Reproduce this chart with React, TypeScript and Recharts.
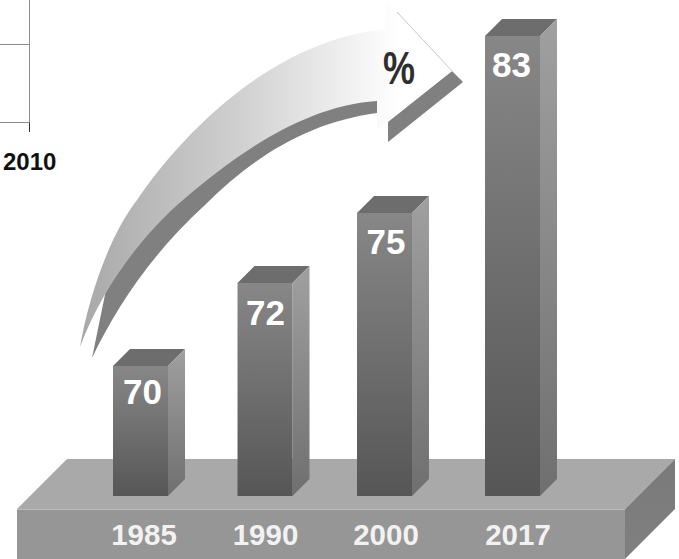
import React from "react";
import { BarChart, Bar, XAxis, YAxis, LabelList } from "recharts";

const years = ["1985", "1990", "2000", "2017"];
const percentages = [70, 72, 75, 83];
const rows = years.map((year, i) => ({ year, percent: percentages[i] }));

// Uneven value axis: the stops give each value its share of the plot height.
const axisValues = [60, 70, 72, 75, 83];
const axisShares = [0, 130 / 460, 213 / 460, 283 / 460, 1];

function stoppedScale(domain = [60, 83], range = [0, 1]) {
  const s: any = (v: number) => {
    let i = 0;
    while (i < axisValues.length - 2 && v > axisValues[i + 1]) i++;
    const t = (v - axisValues[i]) / (axisValues[i + 1] - axisValues[i]);
    const share = axisShares[i] + t * (axisShares[i + 1] - axisShares[i]);
    return range[0] + share * (range[1] - range[0]);
  };
  s.domain = (d?: number[]) => (d ? ((domain = d), s) : domain);
  s.range = (r?: number[]) => (r ? ((range = r.map(Number)), s) : range);
  s.copy = () => stoppedScale(domain.slice(), range.slice());
  s.ticks = () => axisValues;
  return s;
}

const DEPTH = 17;
const FONT = "'Liberation Sans', Arial, sans-serif";
const barShift = [0, 0.5, -4, 0];
const labelShift = [2, 0.5, 1.5, -1];
const labelDrop = [38, 42, 41, 41];
const tickShift = [4, 1.5, -2, 6];

function Prism(props: any) {
  const { x, y, width, height, index } = props;
  const l = x + barShift[index];
  const r = l + width;
  const b = y + height;
  return (
    <g>
      <polygon
        points={`${l},${y} ${l + DEPTH},${y - DEPTH} ${r + DEPTH},${y - DEPTH} ${r},${y}`}
        fill="#6d6d6d"
      />
      <polygon
        points={`${r},${y} ${r + DEPTH},${y - DEPTH} ${r + DEPTH},${b - DEPTH} ${r},${b}`}
        fill="url(#prismSide)"
      />
      <rect x={l} y={y} width={width} height={height} fill="url(#prismFront)" />
    </g>
  );
}

function YearTick(props: any) {
  const { x, payload, index } = props;
  return (
    <text
      x={x + tickShift[index]}
      y={545}
      textAnchor="middle"
      fontFamily={FONT}
      fontWeight="bold"
      fontSize={29.5}
      fill="#f2f2f2"
    >
      {payload.value}
    </text>
  );
}

function ValueLabel(props: any) {
  const { x, y, width, value, index } = props;
  return (
    <text
      x={x + barShift[index] + width / 2 + labelShift[index]}
      y={y + labelDrop[index]}
      textAnchor="middle"
      fontFamily={FONT}
      fontWeight="bold"
      fontSize={35}
      fill="#ffffff"
    >
      {value}
    </text>
  );
}

export default function App() {
  return (
    <div style={{ position: "absolute", left: 0, top: 0, width: 679, height: 559, background: "#fff" }}>
      <BarChart
        width={679}
        height={559}
        data={rows}
        barSize={55}
        margin={{ top: 36, right: 105, bottom: 0, left: 78 }}
      >
        <defs>
          <linearGradient id="prismFront" x1="0" y1="0" x2="0" y2="1">
            <stop offset="0" stopColor="#878787" />
            <stop offset="1" stopColor="#565656" />
          </linearGradient>
          <linearGradient id="prismSide" x1="0" y1="0" x2="0" y2="1">
            <stop offset="0" stopColor="#a0a0a0" />
            <stop offset="1" stopColor="#6f6f6f" />
          </linearGradient>
          <linearGradient id="sweep" gradientUnits="userSpaceOnUse" x1="80" y1="0" x2="400" y2="0">
            <stop offset="0" stopColor="#a8a8a8" />
            <stop offset="0.5" stopColor="#d0d0d0" />
            <stop offset="0.95" stopColor="#fbfbfb" />
            <stop offset="1" stopColor="#ffffff" />
          </linearGradient>
          <linearGradient id="slabEnd" x1="0" y1="0" x2="0" y2="1">
            <stop offset="0" stopColor="#7a7a7a" />
            <stop offset="1" stopColor="#808080" />
          </linearGradient>
        </defs>

        {/* Cropped edge of a neighbouring plot */}
        <g stroke="#8c8c8c" strokeWidth={1} fill="none">
          <path d="M0,44.5 H29.5 M29.5,0 V122.5 M0,122.5 H29.5" />
          <path d="M29.5,122.5 V132" stroke="#333" />
        </g>
        <text x={3} y={170} fontFamily={FONT} fontWeight="bold" fontSize={24} fill="#111">
          2010
        </text>

        {/* Platform */}
        <polygon points="17,509 67,459 675,459 625,509" fill="#a9a9a9" />
        <rect x={17} y={509} width={608} height={50} fill="#969696" />
        <polygon points="625,509 675,459 675,509 625,559" fill="url(#slabEnd)" />
        <path d="M17,509.5 H625" stroke="#bcbcbc" strokeWidth={1} />

        {/* Rising arrow with its cast edge */}
        <path
          d="M92,358 C115,310 150,255 205,205 C255,155 310,122 377,113 L377,95 C300,100 230,150 183,190 C150,220 120,255 107,285 Z"
          fill="#808080"
        />
        <polygon points="452,71 463,82 388,142 388,122" fill="#808080" />
        <path
          d="M80,347 C90,290 112,232 137,200 C172,148 262,42 385,29 L386,0 L452,71 L377,130 L377,101 C300,106 230,160 183,200 C150,228 105,280 80,347 Z"
          fill="url(#sweep)"
        />
        <path d="M397,12 L452,71" stroke="#c8c8c8" strokeWidth={1} fill="none" />
        <text
          x={383}
          y={84}
          fontFamily={FONT}
          fontWeight="bold"
          fontSize={46}
          fill="#2e2e2e"
          textLength={32}
          lengthAdjust="spacingAndGlyphs"
        >
          %
        </text>

        <XAxis dataKey="year" axisLine={false} tickLine={false} height={63} interval={0} tick={<YearTick />} />
        <YAxis hide domain={[60, 83]} scale={stoppedScale()} ticks={axisValues} />
        <Bar dataKey="percent" isAnimationActive={false} shape={<Prism />}>
          <LabelList dataKey="percent" content={<ValueLabel />} />
        </Bar>
      </BarChart>
    </div>
  );
}
